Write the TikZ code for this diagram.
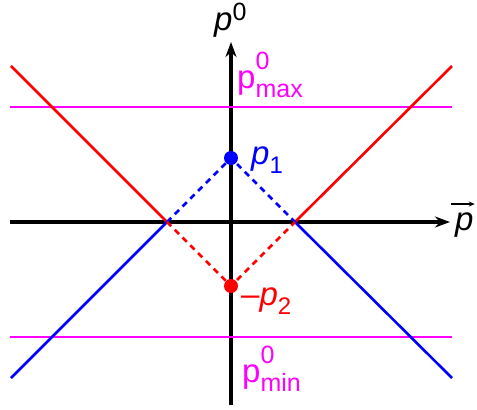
\documentclass[tikz,border=0pt]{standalone}
\usepackage{fontspec}
\setmainfont{Liberation Sans}
\usetikzlibrary{arrows.meta}
\definecolor{conered}{HTML}{FF0000}
\definecolor{coneblue}{HTML}{0000FF}
\definecolor{limitcolor}{HTML}{FF00FF}

% p^0 with a stacked lower index (p^0_max, p^0_min)
\newcommand{\pzerolim}[1]{p\rlap{\raisebox{0.55em}{\fontsize{25}{25}\selectfont 0}}%
  \raisebox{-0.3em}{\fontsize{25}{25}\selectfont #1}}
\newcommand{\psub}[1]{\textit{p}\raisebox{-0.28em}{\fontsize{24}{24}\selectfont #1}}

\begin{document}
\begin{tikzpicture}[
    x=1pt, y=1pt,
    >={Stealth[length=15pt,width=11pt]},
    axis/.style={line width=3.2pt, black},
    cone/.style={line width=2.6pt},
    limit/.style={line width=2.6pt, limitcolor},
    dashcone/.style={line width=2.6pt, dash pattern=on 6pt off 5pt},
    mass/.style={circle, fill, inner sep=0pt, minimum size=14pt},
    lbl/.style={font=\fontsize{33}{33}\selectfont, inner sep=0pt}
]
    \useasboundingbox (-231,-188) rectangle (246,222);

    % Grid alignment:
    % origin at the crossing of the axes
    % p_1 at (0, 64), -p_2 at (0, -64)
    % light cones meet the p axis at (-64, 0) and (64, 0)

    \coordinate (xl) at (-221, 0);
    \coordinate (xr) at (219, 0);
    \coordinate (yb) at (0, -183);
    \coordinate (yt) at (0, 180);
    \coordinate (cl) at (-64, 0);
    \coordinate (cr) at (64, 0);
    \coordinate (ul) at (-220, 156);
    \coordinate (ur) at (221, 156);
    \coordinate (dl) at (-220, -156);
    \coordinate (dr) at (221, -156);
    \coordinate (maxl) at (-221, 115);
    \coordinate (maxr) at (221, 115);
    \coordinate (minl) at (-221, -115);
    \coordinate (minr) at (221, -115);

    % 1. Axes
    \draw[axis, ->] (xl) -- (xr);
    \draw[axis, ->] (yb) -- (yt);
    \node[lbl, anchor=base west] (pz) at (-17, 191) {\textit{p}\raisebox{0.33em}{\fontsize{25}{25}\selectfont 0}};
    \node[lbl, anchor=base west] (pvec) at (224, -8) {\textit{p}};
    \draw[line width=1.3pt, -{Stealth[length=6pt,width=5pt]}] ([xshift=-4pt,yshift=8pt]pvec.north west) -- ([xshift=1pt,yshift=8pt]pvec.north east);

    % 2. Limits p^0_max and p^0_min
    \draw[limit] (maxl) -- (maxr);
    \draw[limit] (minl) -- (minr);
    \node[lbl, limitcolor, anchor=base west] (pmax) at (6, 134) {\pzerolim{max}};
    \node[lbl, limitcolor, anchor=base west] (pmin) at (11, -160) {\pzerolim{min}};

    % 3. Momenta
    \coordinate (p1) at (0, 64);
    \coordinate (p2) at (0, -64);
    \node[lbl, coneblue, anchor=base west] (p1l) at (20, 58) {\psub{1}};
    \node[lbl, conered, anchor=base west] (p2l) at (10, -83) {\textendash\psub{2}};

    % 4. Light cones (solid outside, dashed between the momenta)
    \draw[cone, conered] (ul) -- (cl);
    \draw[cone, conered] (cr) -- (ur);
    \draw[cone, coneblue] (dl) -- (cl);
    \draw[cone, coneblue] (cr) -- (dr);
    \draw[dashcone, coneblue] (cl) -- (p1) -- (cr);
    \draw[dashcone, conered] (cl) -- (p2) -- (cr);
    \node[mass, coneblue] (p1dot) at (p1) {};
    \node[mass, conered] (p2dot) at (p2) {};

\end{tikzpicture}
\end{document}
